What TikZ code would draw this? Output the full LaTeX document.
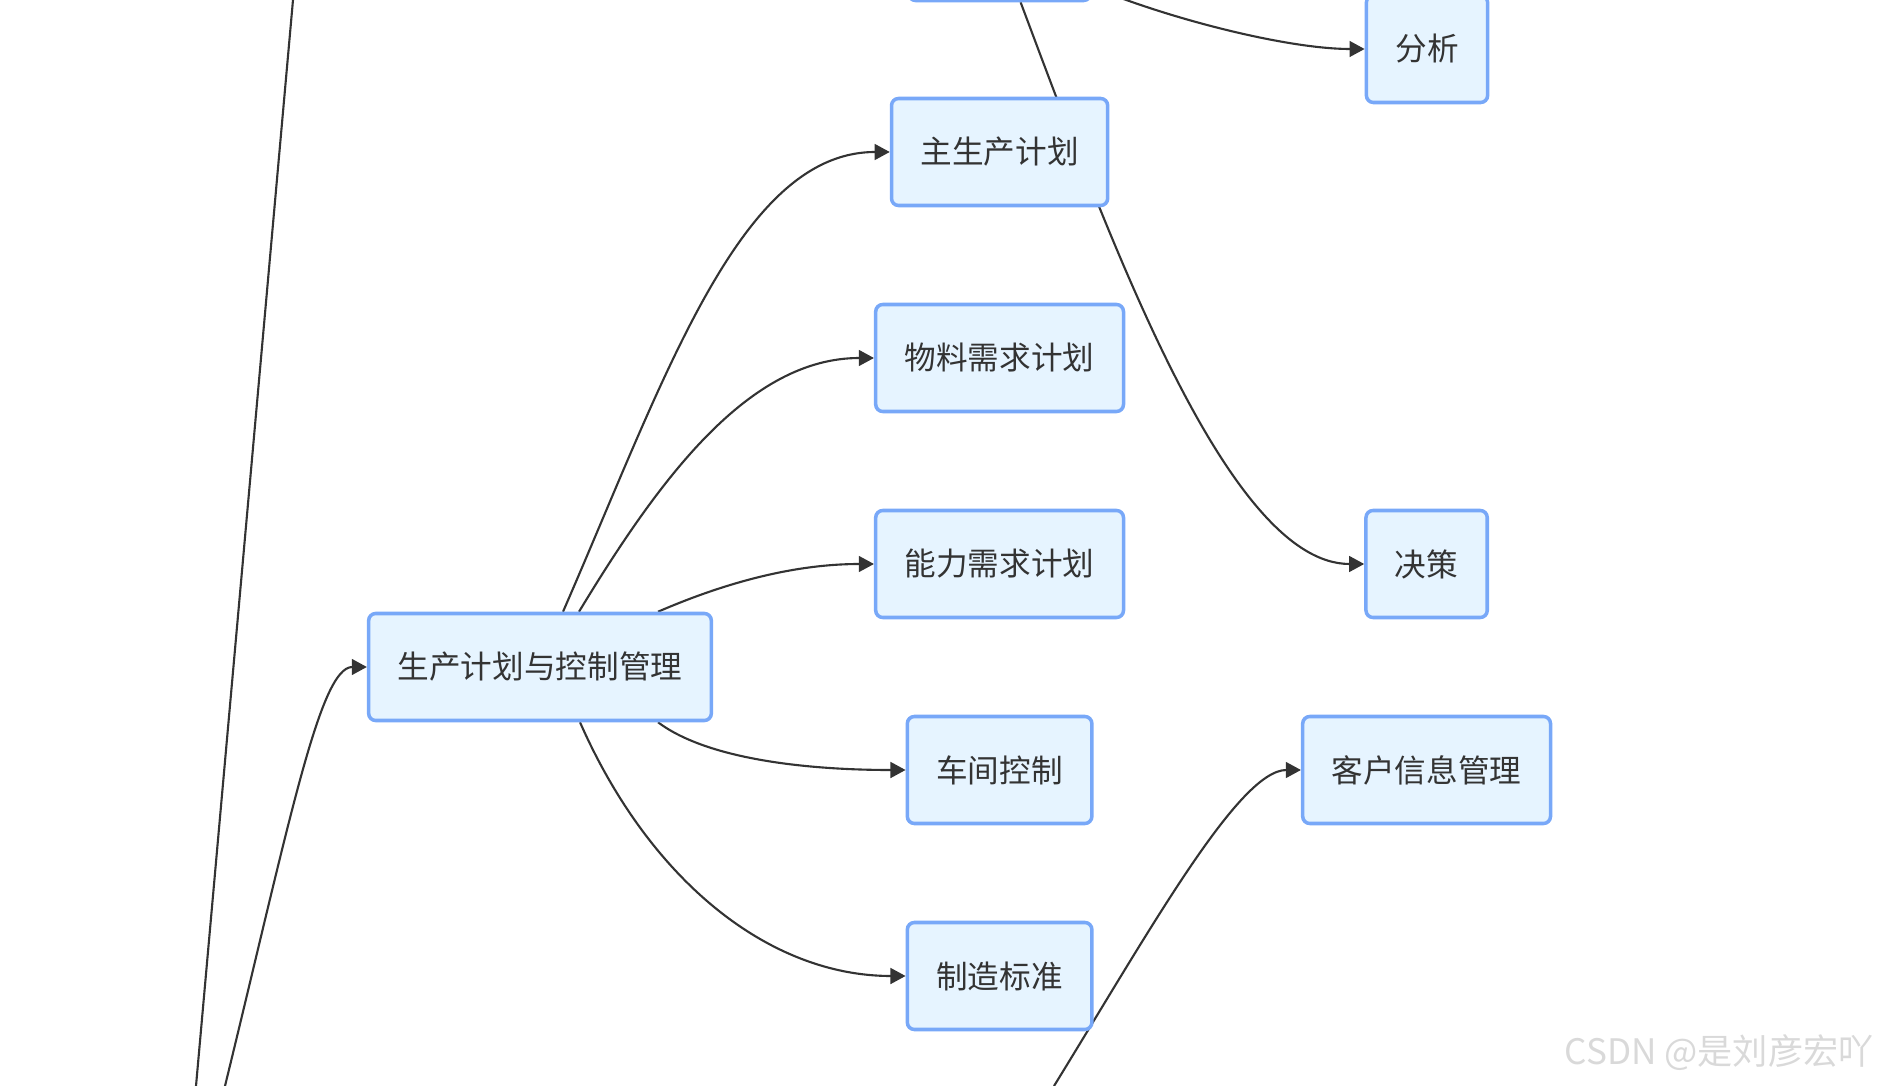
\documentclass[tikz,border=0pt]{standalone}
\usepackage{fontspec}
\setmainfont{Noto Sans CJK SC}
\usepackage{xcolor}
\usepackage{tikz}
\usetikzlibrary{arrows.meta,positioning,backgrounds}
\definecolor{boxfill}{RGB}{230,244,255}
\definecolor{boxline}{RGB}{120,168,248}
\definecolor{linkc}{RGB}{51,51,51}

\begin{document}
\begin{tikzpicture}[node distance=2.06cm,semithick,>={Triangle[length=4.3pt,width=4.5pt]}]
\tikzstyle{box}=[draw=boxline,fill=boxfill,line width=1pt,rounded corners=2pt,minimum height=1.07cm,inner xsep=0.29cm,text=linkc,font=\fontsize{9pt}{11pt}\selectfont]%
\tikzstyle{link}=[draw=linkc,line width=0.6pt,->]
\useasboundingbox (0,0) rectangle (18.82,-10.86);
\clip (0,0) rectangle (18.82,-10.86);
%nodos
\node[box] (zsp) at (9.996,-1.52) {主生产计划};
\node[box] (wl) [below of=zsp] {物料需求计划};
\node[box] (nl) [below of=wl] {能力需求计划};
\node[box] (cj) [below of=nl] {车间控制};
\node[box] (zz) [below of=cj] {制造标准};
\node[box,minimum width=1.82cm] (top) [above of=zsp,node distance=2.05cm] {};
\node[box] (sc) at (5.40,-6.67) {生产计划与控制管理};
\node[box] (jc) [right of=nl,node distance=4.27cm] {决策};
\node[box] (kh) [right of=cj,node distance=4.27cm] {客户信息管理};
\node[box] (fx) at (14.27,-0.49) {分析};
\node[text=gray!30,font=\fontsize{10pt}{12pt}\selectfont] (marca) at (17.19,-10.53) {CSDN @是刘彦宏吖};
\coordinate (lt) at (2.93,0);
\coordinate (lb) at (1.96,-10.86);
\coordinate (sb) at (2.25,-10.86);
\coordinate (kb) at (10.54,-10.86);
%conexiones
\begin{scope}[on background layer]
\clip (0,0) rectangle (18.82,-10.86);
\draw[link,-] (lt) -- (lb);
\draw[link] (sb) .. controls +(0.65,2.66) and +(-0.47,0) .. (sc.west);
\draw[link] ([xshift=0.23cm]sc.north) .. controls +(1.02,2.34) and +(-1.5,0) .. (zsp.west);
\draw[link] ([xshift=0.39cm]sc.north) .. controls +(0.81,1.34) and +(-1.25,0) .. (wl.west);
\draw[link] ([xshift=1.18cm]sc.north) .. controls +(0.60,0.26) and +(-0.85,0) .. (nl.west);
\draw[link] ([xshift=1.18cm]sc.south) .. controls +(0.52,-0.39) and +(-0.9,0) .. (cj.west);
\draw[link] ([xshift=0.40cm]sc.south) .. controls +(0.70,-1.59) and +(-1.36,0) .. (zz.west);
\draw[link] ([xshift=0.21cm]top.south) .. controls +(0.90,-2.40) and +(-1.36,0) .. (jc.west);
\draw[link] ([yshift=-0.4cm]top.east) .. controls +(0.80,-0.33) and +(-0.76,0) .. (fx.west);
\draw[link] (kb) .. controls +(0.96,1.56) and +(-0.62,0) .. (kh.west);
\end{scope}
\end{tikzpicture}
\end{document}
